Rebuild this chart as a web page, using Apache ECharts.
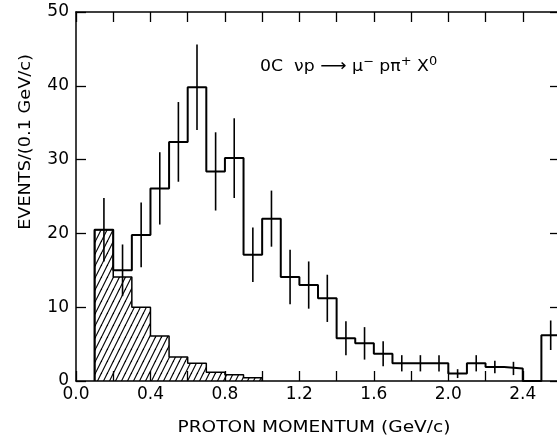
<!DOCTYPE html>
<html><head><meta charset="utf-8">
<script src="https://cdn.jsdelivr.net/npm/echarts@6/dist/echarts.min.js"></script>
<style>html,body{margin:0;padding:0;background:#fff}#c{width:557px;height:441px}</style>
</head><body><div id="c"></div>
<script>
// ---- data ----
const binWidth = 0.1;
const binStarts = [0.1,0.2,0.3,0.4,0.5,0.6,0.7,0.8,0.9,1.0,1.1,1.2,1.3,1.4,1.5,1.6,1.7,1.8,1.9,2.0,2.1,2.2,2.3,2.4,2.5];
const events    = [20.5,15.0,19.8,26.1,32.4,39.8,28.4,30.2,17.1,22.0,14.1,13.0,11.2,5.8,5.1,3.7,2.4,2.4,2.4,1.0,2.4,1.9,1.7,0,6.2];
const errors    = [4.3,3.5,4.4,4.9,5.4,5.8,5.3,5.4,3.7,3.8,3.7,3.2,3.2,2.3,2.2,1.7,1.1,1.1,1.1,0.6,1.1,0.85,0.9,0,2.0];
const hatchStarts = [0.1,0.2,0.3,0.4,0.5,0.6,0.7,0.8,0.9];
const hatchEvents = [20.5,14.1,10.0,6.1,3.25,2.4,1.2,0.85,0.45];
const xTickLabels = ['0.0','0.4','0.8','1.2','1.6','2.0','2.4'];
const yTickLabels = ['0','10','20','30','40','50'];

const FONT = 'DejaVu Sans';

function steps(starts, vals, w) {
  const pts = [[starts[0], 0]];
  for (let i = 0; i < starts.length; i++) {
    pts.push([starts[i], vals[i]]);
    pts.push([+(starts[i] + w).toFixed(3), vals[i]]);
  }
  pts.push([+(starts[starts.length - 1] + w).toFixed(3), 0]);
  return pts;
}
const errData = [];
binStarts.forEach((s, i) => {
  if (errors[i] > 0) errData.push([+(s + binWidth / 2).toFixed(3), events[i] - errors[i], events[i] + errors[i]]);
});

// hatch pattern
const pat = document.createElement('canvas');
pat.width = 6; pat.height = 12;
const g = pat.getContext('2d');
g.strokeStyle = '#000'; g.lineWidth = 1.2;
[-6, 0, 6].forEach(dx => {
  g.beginPath(); g.moveTo(dx, 12); g.lineTo(dx + 6, 0); g.stroke();
});

const fmtX = v => { const s = v.toFixed(1); return xTickLabels.indexOf(s) >= 0 ? s : ''; };
const fmtY = v => { const s = String(Math.round(v)); return yTickLabels.indexOf(s) >= 0 ? s : ''; };

const axisCommon = {
  axisLine: { show: true, onZero: false, lineStyle: { color: '#000', width: 1.5 } },
  axisTick: { show: true, inside: true, length: 10, lineStyle: { color: '#000', width: 1.3 } },
  splitLine: { show: false }
};

const chart = echarts.init(document.getElementById('c'), null, { renderer: 'canvas' });
chart.setOption({
  animation: false,
  backgroundColor: '#fff',
  grid: { left: 76, top: 12, width: 484, height: 369, outerBoundsMode: 'none', containLabel: false },
  xAxis: [
    Object.assign({ type: 'value', min: 0, max: 2.6, interval: 0.2, position: 'bottom',
      axisLabel: { formatter: fmtX, color: '#000', fontSize: 17, fontFamily: FONT, margin: 5, showMinLabel: true } }, axisCommon),
    Object.assign({ type: 'value', min: 0, max: 2.6, interval: 0.2, position: 'top',
      axisLabel: { show: false } }, axisCommon)
  ],
  yAxis: [
    Object.assign({ type: 'value', min: 0, max: 50, interval: 10, position: 'left',
      axisLabel: { formatter: fmtY, color: '#000', fontSize: 17, fontFamily: FONT, margin: 7 } }, axisCommon),
    Object.assign({ type: 'value', min: 0, max: 50, interval: 10, position: 'right',
      axisLabel: { show: false } }, axisCommon)
  ],
  series: [
    { type: 'line', data: steps(hatchStarts, hatchEvents, binWidth), symbol: 'none',
      lineStyle: { color: '#000', width: 1.5 },
      areaStyle: { color: { image: pat, repeat: 'repeat' }, opacity: 1, origin: 'start' }, z: 2 },
    { type: 'line', data: steps(binStarts, events, binWidth), symbol: 'none',
      lineStyle: { color: '#000', width: 2 }, z: 3 },
    { type: 'custom', data: errData, z: 4,
      renderItem: (params, api) => {
        const a = api.coord([api.value(0), api.value(1)]);
        const b = api.coord([api.value(0), api.value(2)]);
        return { type: 'line', shape: { x1: a[0], y1: a[1], x2: b[0], y2: b[1] },
          style: { stroke: '#000', lineWidth: 1.6 } };
      } }
  ],
  graphic: [
    { type: 'text', x: 26, y: 142, rotation: Math.PI / 2, scaleX: 1.18,
      style: { text: 'EVENTS/(0.1 GeV/c)', font: '15px "DejaVu Sans"', fill: '#000', textAlign: 'center', textVerticalAlign: 'middle' } },
    { type: 'text', x: 314, y: 428, scaleX: 1.16,
      style: { text: 'PROTON MOMENTUM (GeV/c)', font: '16px "DejaVu Sans"', fill: '#000', textAlign: 'center', textVerticalAlign: 'middle' } },
    { type: 'text', x: 260, y: 67, scaleX: 1.08,
      style: { text: '{a|0C  νp }{r|⟶}{a| μ}{s|−}{a| pπ}{s|+}{a| X}{s|0}',
        textVerticalAlign: 'middle', fill: '#000',
        rich: {
          a: { fontFamily: FONT, fontSize: 16, lineHeight: 22, fill: '#000' },
          r: { fontFamily: FONT, fontSize: 17, lineHeight: 22, fill: '#000' },
          s: { fontFamily: FONT, fontSize: 12, lineHeight: 12, verticalAlign: 'top', fill: '#000' }
        } } }
  ]
});
</script></body></html>
